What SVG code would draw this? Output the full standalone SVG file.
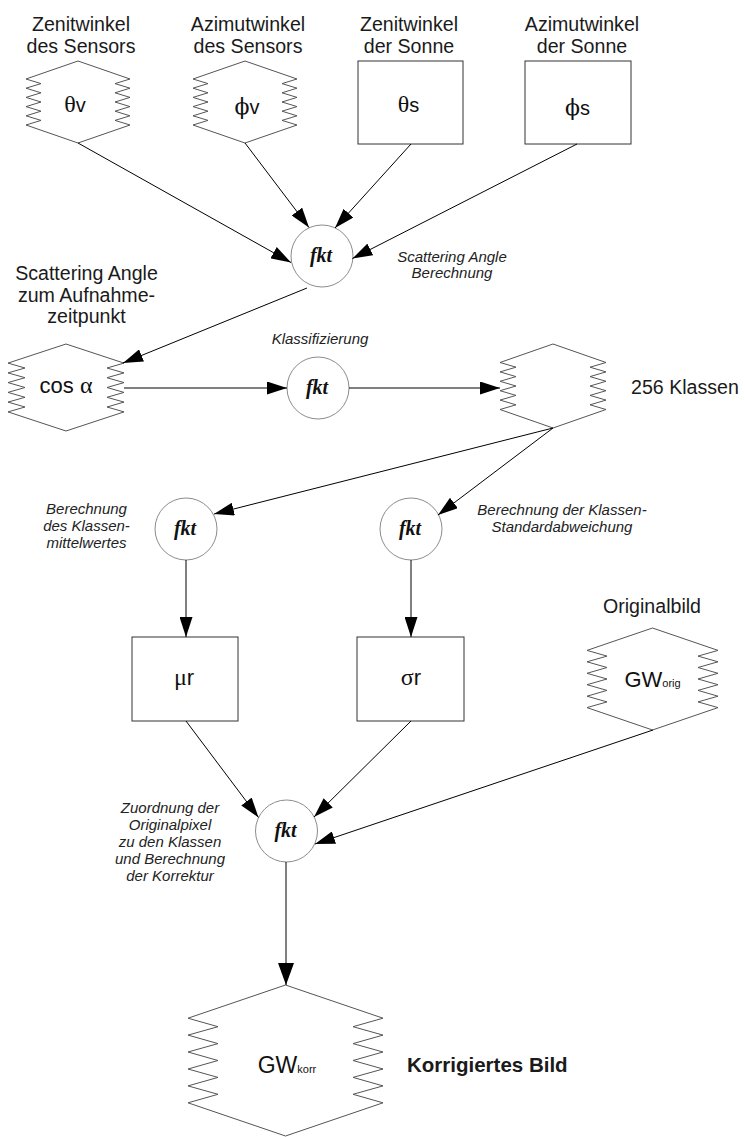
<svg xmlns="http://www.w3.org/2000/svg" width="745" height="1137" viewBox="0 0 745 1137">
  <defs>
    <marker id="ah" markerUnits="userSpaceOnUse" markerWidth="20" markerHeight="13" refX="20" refY="6.5" orient="auto">
      <path d="M0,0 L20,6.5 L0,13 Z" fill="#000"/>
    </marker>
    <marker id="ahL" markerUnits="userSpaceOnUse" markerWidth="22" markerHeight="16" refX="22" refY="8" orient="auto">
      <path d="M0,0 L22,8 L0,16 Z" fill="#000"/>
    </marker>
    <style>
      .lbl{font-family:"Liberation Sans",Arial,sans-serif;font-size:19.6px;fill:#1a1a1a;text-anchor:middle}
      .note{font-family:"Liberation Sans",Arial,sans-serif;font-size:15px;font-style:italic;fill:#222;text-anchor:middle}
      .fkt{font-family:"Liberation Serif","Times New Roman",serif;font-size:20px;font-weight:bold;font-style:italic;fill:#111;text-anchor:middle}
      .sym{font-family:"Liberation Sans",Arial,sans-serif;font-size:20px;fill:#111;text-anchor:middle}
      .gr{font-family:"Liberation Serif","Times New Roman",serif;font-size:24px}
      .phi{font-family:"DejaVu Serif",serif;font-size:22px}
      .big{font-size:22px}
      .sub{font-size:11px}
      .store{fill:#fff;stroke:#555;stroke-width:1}
      .box{fill:#fff;stroke:#333;stroke-width:1}
      .fn{fill:#fff;stroke:#8c8c8c;stroke-width:1}
      .edge{fill:none;stroke:#000;stroke-width:1;marker-end:url(#ah)}
      .edgeL{fill:none;stroke:#000;stroke-width:1;marker-end:url(#ahL)}
    </style>
    <!-- zigzag-sided data store, 104 x 82 -->
    <path id="storeS" d="M78,61 L130,79 L115,83.6 L130,88.2 L115,92.8 L130,97.4 L115,102 L130,106.6 L115,111.2 L130,115.8 L115,120.4 L130,125 L78,143 L26,125 L41,120.4 L26,115.8 L41,111.2 L26,106.6 L41,102 L26,97.4 L41,92.8 L26,88.2 L41,83.6 L26,79 Z"/>
  </defs>
  <rect width="745" height="1137" fill="#fff"/>

  <!-- input: sensor zenith angle -->
  <g id="theta-v">
    <text class="lbl" x="81" y="31">Zenitwinkel</text>
    <text class="lbl" x="81" y="53">des Sensors</text>
    <use href="#storeS" class="store"/>
    <text class="sym" x="75" y="112"><tspan class="gr">θ</tspan>v</text>
  </g>

  <!-- input: sensor azimuth angle -->
  <g id="phi-v">
    <text class="lbl" x="248" y="31">Azimutwinkel</text>
    <text class="lbl" x="248" y="53">des Sensors</text>
    <use href="#storeS" class="store" transform="translate(167,0)"/>
    <text class="sym" x="247" y="114"><tspan class="phi">ϕ</tspan>v</text>
  </g>

  <!-- input: solar zenith angle -->
  <g id="theta-s">
    <text class="lbl" x="409" y="31">Zenitwinkel</text>
    <text class="lbl" x="409" y="53">der Sonne</text>
    <rect class="box" x="358" y="61" width="105" height="83"/>
    <text class="sym" x="408.5" y="112"><tspan class="gr">θ</tspan>s</text>
  </g>

  <!-- input: solar azimuth angle -->
  <g id="phi-s">
    <text class="lbl" x="582" y="31">Azimutwinkel</text>
    <text class="lbl" x="582" y="53">der Sonne</text>
    <rect class="box" x="525" y="61" width="106" height="83"/>
    <text class="sym" x="577.5" y="115"><tspan class="phi">ϕ</tspan>s</text>
  </g>

  <!-- scattering angle computation -->
  <g id="fkt-scatter">
    <circle class="fn" cx="322" cy="256" r="31"/>
    <text class="fkt" x="321" y="262">fkt</text>
    <text class="note" x="452" y="262">Scattering Angle</text>
    <text class="note" x="452" y="278">Berechnung</text>
  </g>

  <!-- scattering angle store -->
  <g id="cos-alpha">
    <text class="lbl" x="86.5" y="280">Scattering Angle</text>
    <text class="lbl" x="86.5" y="302">zum Aufnahme-</text>
    <text class="lbl" x="86.5" y="323">zeitpunkt</text>
    <path class="store" d="M66,344 L124,363.1 L107,368 L124,372.9 L107,377.7 L124,382.6 L107,387.5 L124,392.4 L107,397.3 L124,402.1 L107,407 L124,411.9 L66,431 L8,411.9 L25,407 L8,402.1 L25,397.3 L8,392.4 L25,387.5 L8,382.6 L25,377.7 L8,372.9 L25,368 L8,363.1 Z"/>
    <text class="sym big" x="66" y="393">cos <tspan class="gr">α</tspan></text>
  </g>

  <!-- classification -->
  <g id="fkt-class">
    <circle class="fn" cx="318" cy="388" r="31"/>
    <text class="fkt" x="317" y="394">fkt</text>
    <text class="note" x="320" y="344">Klassifizierung</text>
  </g>

  <!-- 256 classes -->
  <g id="classes">
    <path class="store" d="M553,344 L606,362.5 L590,367.2 L606,371.9 L590,376.6 L606,381.3 L590,386 L606,390.7 L590,395.4 L606,400.1 L590,404.8 L606,409.5 L553,428 L500,409.5 L516,404.8 L500,400.1 L516,395.4 L500,390.7 L516,386 L500,381.3 L516,376.6 L500,371.9 L516,367.2 L500,362.5 Z"/>
    <text class="lbl" x="631" y="394" style="text-anchor:start">256 Klassen</text>
  </g>

  <!-- class mean -->
  <g id="fkt-mean">
    <circle class="fn" cx="186" cy="529" r="31"/>
    <text class="fkt" x="185" y="535">fkt</text>
    <text class="note" x="86.5" y="514">Berechnung</text>
    <text class="note" x="86.5" y="531">des Klassen-</text>
    <text class="note" x="86.5" y="548">mittelwertes</text>
  </g>

  <!-- class standard deviation -->
  <g id="fkt-std">
    <circle class="fn" cx="411" cy="529" r="31"/>
    <text class="fkt" x="410" y="535">fkt</text>
    <text class="note" x="562" y="515">Berechnung der Klassen-</text>
    <text class="note" x="562" y="532">Standardabweichung</text>
  </g>

  <g id="mu-r">
    <rect class="box" x="132" y="637" width="106" height="84"/>
    <text class="sym big" x="184" y="685"><tspan class="gr">μ</tspan>r</text>
  </g>

  <g id="sigma-r">
    <rect class="box" x="357" y="637" width="107" height="84"/>
    <text class="sym big" x="411" y="685"><tspan class="gr">σ</tspan>r</text>
  </g>

  <!-- original image -->
  <g id="gw-orig">
    <text class="lbl" x="652" y="613">Originalbild</text>
    <path class="store" d="M652.5,628 L718,650.4 L698,656.1 L718,661.8 L698,667.5 L718,673.3 L698,679 L718,684.7 L698,690.4 L718,696.2 L698,701.9 L718,707.6 L652.5,730 L587,707.6 L607,701.9 L587,696.2 L607,690.4 L587,684.7 L607,679 L587,673.3 L607,667.5 L587,661.8 L607,656.1 L587,650.4 Z"/>
    <text class="sym big" x="652.5" y="687">GW<tspan class="sub">orig</tspan></text>
  </g>

  <!-- correction -->
  <g id="fkt-corr">
    <circle class="fn" cx="286.5" cy="831" r="31"/>
    <text class="fkt" x="285.5" y="837">fkt</text>
    <text class="note" x="170" y="813">Zuordnung der</text>
    <text class="note" x="170" y="830">Originalpixel</text>
    <text class="note" x="170" y="847">zu den Klassen</text>
    <text class="note" x="170" y="864">und Berechnung</text>
    <text class="note" x="170" y="881">der Korrektur</text>
  </g>

  <!-- corrected image -->
  <g id="gw-korr">
    <path class="store" d="M285.5,985 L383,1018.2 L353,1026.7 L383,1035.1 L353,1043.6 L383,1052 L353,1060.5 L383,1069 L353,1077.4 L383,1085.9 L353,1094.3 L383,1102.8 L285.5,1136 L188,1102.8 L218,1094.3 L188,1085.9 L218,1077.4 L188,1069 L218,1060.5 L188,1052 L218,1043.6 L188,1035.1 L218,1026.7 L188,1018.2 Z"/>
    <text class="sym big" x="287" y="1072.5" style="font-size:23px">GW<tspan class="sub">korr</tspan></text>
    <text class="lbl" x="407" y="1072" style="text-anchor:start;font-weight:bold;font-size:20.5px">Korrigiertes Bild</text>
  </g>

  <!-- connectors -->
  <g id="connectors">
    <path class="edge" d="M78,143 L291,262.5"/>
    <path class="edge" d="M245,143 L309,227.5"/>
    <path class="edge" d="M411,144 L335,228"/>
    <path class="edge" d="M577,144 L352.5,258.5"/>
    <path class="edge" d="M307,288 L123,363"/>
    <path class="edge" d="M124,388 L287,388"/>
    <path class="edge" d="M349,388 L500,388"/>
    <path class="edge" d="M553,428 L214,514"/>
    <path class="edge" d="M553,428 L438,515"/>
    <path class="edge" d="M186,560 L186,637"/>
    <path class="edge" d="M411,560 L411,637"/>
    <path class="edge" d="M186,721 L258.5,817.5"/>
    <path class="edge" d="M411,721 L314,817"/>
    <path class="edge" d="M653,730 L315,844"/>
    <path class="edgeL" d="M286,862 L286,985"/>
  </g>
</svg>
